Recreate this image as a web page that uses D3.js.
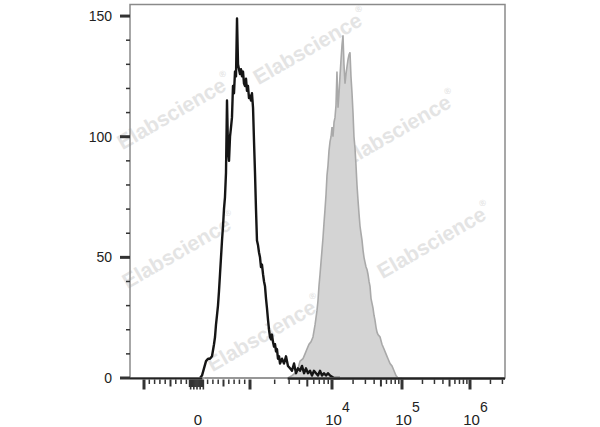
<!DOCTYPE html>
<html><head><meta charset="utf-8">
<script src="https://cdn.jsdelivr.net/npm/d3@7"></script>
<style>html,body{margin:0;padding:0;background:#fff;}svg{display:block;}</style>
</head><body>
<svg id="chart" width="600" height="427"></svg>
<script>
// ---- data (x in display decades: |v|<=1000 linear v/1000, above log: 1+log10(v/1000)) ----
const blackT = [0.057,0.094,0.132,0.170,0.208,0.245,0.283,0.321,0.340,0.358,0.377,0.396,0.415,0.434,0.453,0.472,0.491,0.509,0.528,0.547,0.566,0.585,0.604,0.623,0.642,0.660,0.679,0.698,0.717,0.736,0.755,0.774,0.792,0.811,0.830,0.849,0.868,0.887,0.906,0.925,0.943,0.962,0.981,1.000,1.012,1.024,1.037,1.049,1.061,1.073,1.085,1.098,1.110,1.122,1.134,1.146,1.159,1.171,1.183,1.195,1.207,1.220,1.232,1.244,1.256,1.268,1.280,1.293,1.305,1.317,1.329,1.341,1.354,1.366,1.390,1.415,1.439,1.463,1.488,1.512,1.537,1.561,1.585,1.610,1.634,1.659,1.683,1.707,1.732,1.756,1.780,1.805,1.829,1.854,1.878,1.902,1.927,1.951,1.976,2.000,2.029,2.114];
const blackCount = [0,1,4,7,8,8,9,14,17,22,26,30,36,43,50,57,63,70,75,85,115,95,90,100,104,108,121,118,127,125,149,130,128,126,128,125,127,122,121,124,119,121,116,117,115,118,112,98,85,70,57,55,52,50,46,47,43,40,38,33,29,24,20,17,16,18,15,13,14,11,12,8,9,6,8,6,9,5,4,3,6,2,4,3,5,2,4,2,3,1,3,2,1,3,1,2,1,2,1,0.5,0,0];

const grayT = [0.15,1.463,1.512,1.549,1.585,1.610,1.646,1.671,1.695,1.720,1.744,1.768,1.793,1.817,1.829,1.841,1.854,1.866,1.878,1.890,1.902,1.915,1.927,1.939,1.951,1.963,1.976,1.988,2.000,2.014,2.029,2.043,2.057,2.071,2.086,2.100,2.114,2.129,2.143,2.157,2.171,2.186,2.200,2.214,2.229,2.243,2.257,2.271,2.286,2.300,2.314,2.329,2.343,2.357,2.371,2.386,2.400,2.414,2.429,2.443,2.457,2.471,2.486,2.500,2.514,2.529,2.543,2.557,2.571,2.586,2.600,2.614,2.629,2.643,2.657,2.686,2.714,2.743,2.771,2.800,2.829,2.857,2.886,2.914,2.943,3.0];
const grayCount = [0,0,1,2,4,7,8,10,12,14,15,17,22,28,32,38,43,48,53,58,64,70,76,84,88,94,98,100,104,100,106,108,113,127,112,118,125,132,138,142,130,122,126,129,132,134,135,125,118,110,100,95,88,80,74,68,63,60,57,53,50,48,46,45,43,40,38,33,31,29,26,24,21,19,18,17,14,12,10,8,6,5,3,1,0,0];

const yTickValues = [0, 50, 100, 150];
const xLabelTicks = [
  {v: 0, base: "0", exp: ""},
  {v: 1e4, base: "10", exp: "4"},
  {v: 1e5, base: "10", exp: "5"},
  {v: 1e6, base: "10", exp: "6"}
];
const watermarkText = "Elabscience";

// ---- scales ----
function toT(v){ const a=Math.abs(v); return a<=1000 ? v/1000 : Math.sign(v)*(1+Math.log10(a/1000)); }
const x = d3.scaleLinear().domain([-1.27,-1,0,1,2,3,4,4.515]).range([130,144,197,250,332,402,470,505]);
const y = d3.scaleLinear().domain([0,155]).range([378,4]);

const svg = d3.select("#chart");

// ---- watermarks ----
const wm = [[311,48],[175,113],[400,130],[180,252],[435,242],[265,335]];
const wg = svg.append("g");
wm.forEach(([cx,cy])=>{
  const t = wg.append("text").attr("transform",`translate(${cx},${cy}) rotate(-30)`)
    .attr("text-anchor","middle").attr("dominant-baseline","middle")
    .attr("font-family","Liberation Sans, Arial, sans-serif").attr("font-weight","bold")
    .attr("font-size",21).attr("fill","#e4e4e4");
  t.append("tspan").text(watermarkText);
  t.append("tspan").attr("font-size",9).attr("dy",-9).text("®");
});

// ---- histograms ----
const grayData = grayT.map((t,i)=>[t,grayCount[i]]);
const blackData = blackT.map((t,i)=>[t,blackCount[i]]);
svg.append("path").datum(grayData)
  .attr("d", d3.area().x(d=>x(d[0])).y0(y(0)).y1(d=>y(d[1])))
  .attr("fill","#d4d4d4");
svg.append("path").datum(grayData)
  .attr("d", d3.line().x(d=>x(d[0])).y(d=>y(d[1])))
  .attr("fill","none").attr("stroke","#a9a9a9").attr("stroke-width",1.6);

// axis line segments
svg.append("line").attr("x1",x(1.46)).attr("x2",505).attr("y1",y(0)+0.5).attr("y2",y(0)+0.5)
  .attr("stroke","#222").attr("stroke-width",2.2);

svg.append("path").datum(blackData)
  .attr("d", d3.line().x(d=>x(d[0])).y(d=>y(d[1])))
  .attr("fill","none").attr("stroke","#151515").attr("stroke-width",2.4).attr("stroke-linejoin","round");

// ---- frame ----
svg.append("rect").attr("x",130).attr("y",4.5).attr("width",375).attr("height",y(0)-4.5)
  .attr("fill","none").attr("stroke","#8a8a8a").attr("stroke-width",1.5);
svg.append("line").attr("x1",130).attr("x2",x(0.1)).attr("y1",y(0)+0.5).attr("y2",y(0)+0.5)
  .attr("stroke","#222").attr("stroke-width",2.2);
svg.append("line").attr("x1",x(1.46)).attr("x2",505).attr("y1",y(0)+0.5).attr("y2",y(0)+0.5)
  .attr("stroke","#222").attr("stroke-width",2.2);

// ---- y axis ----
const ya = svg.append("g");
d3.range(0,151,10).forEach(v=>{
  const major = v%50===0;
  ya.append("line").attr("x1", major?120:126).attr("x2",130).attr("y1",y(v)).attr("y2",y(v))
    .attr("stroke","#333").attr("stroke-width", major?3:1.5);
});
ya.selectAll("text.yl").data(yTickValues).join("text")
  .attr("x",112).attr("y",d=>y(d)).attr("dy","0.35em").attr("text-anchor","end")
  .attr("font-family","Liberation Sans, Arial, sans-serif").attr("font-size",14).attr("fill","#222")
  .text(d=>d);

// ---- x axis ticks ----
const xa = svg.append("g");
const y0 = y(0)+1.5;
function tick(t,len,w){ xa.append("line").attr("x1",x(t)).attr("x2",x(t)).attr("y1",y0).attr("y2",y0+len).attr("stroke","#333").attr("stroke-width",w); }
for(let k=-10;k<=10;k++){
  const t=k/10;
  if(Math.abs(k)===10) tick(t,10,3);
  else if(Math.abs(k)===5) tick(t,7,2);
  else if(Math.abs(k)>1) tick(t,4.5,1.5);
}
for(let k=-7;k<=6;k++){ tick(k*0.02, (k%3===0)?10:7.5, 1.6); }
[1e3,1e4,1e5,1e6].forEach(dec=>{
  if(dec>1e3) tick(toT(dec),10,3);
  for(let m=2;m<=9;m++){
    const v=dec*m; const t=toT(v);
    if(t>4.51) continue;
    tick(t, m===5?7:4.5, m===5?2:1.5);
  }
});

// ---- x labels ----
xLabelTicks.forEach(d=>{
  const t = xa.append("text").attr("y",425)
    .attr("font-family","Liberation Sans, Arial, sans-serif").attr("font-size",15).attr("fill","#222")
    .attr("text-anchor","middle");
  if(d.exp===""){ t.attr("x",x(toT(d.v))+1).text(d.base); }
  else {
    t.attr("x",x(toT(d.v))+5.5);
    t.append("tspan").text(d.base);
    t.append("tspan").attr("dy",-13).attr("font-size",14).text(d.exp);
  }
});
</script>
</body></html>
